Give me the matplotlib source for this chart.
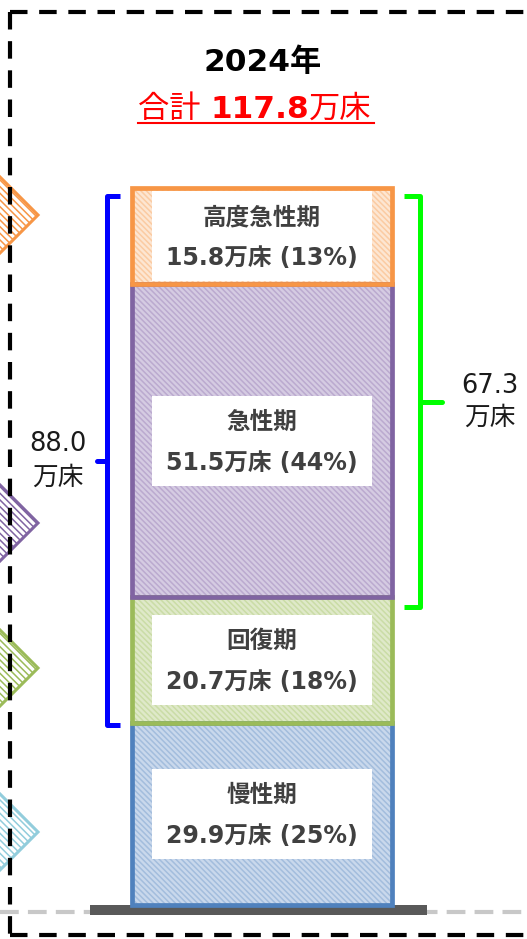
import matplotlib.pyplot as plt
from matplotlib.patches import Rectangle, Polygon
import numpy as np

plt.rcParams['font.family'] = ['DejaVu Sans', 'Noto Sans CJK JP']
plt.rcParams['hatch.linewidth'] = 1.1

# data (万床)
categories = ["慢性期", "回復期", "急性期", "高度急性期"]
beds = [29.9, 20.7, 51.5, 15.8]
shares = [25, 18, 44, 13]
total = 117.8
left_sum = 88.0   # 高度急性期 + 急性期 + 回復期
right_sum = 67.3  # 高度急性期 + 急性期
year_label = "2024年"

edge_colors = ["#4F81BD", "#9BBB59", "#8064A2", "#F79646"]
fill_colors = ["#C9D8EC", "#DFE9C9", "#D5CBE2", "#FDE6D2"]
hatch_colors = ["#A3BDDD", "#CADCA6", "#BBAACF", "#FBCBA2"]
diamond_colors = ["#F79646", "#8064A2", "#9BBB59", "#92CDDC"]
diamond_y = [215, 523, 668, 832]

W, H = 527, 939
fig = plt.figure(figsize=(W / 100, H / 100), dpi=100)

# background / decoration layer in pixel coordinates
bg = fig.add_axes([0, 0, 1, 1])
bg.set_xlim(0, W)
bg.set_ylim(H, 0)
bg.axis("off")

# bar layer: x in pixels, y in 万床
base_px, top_px = 905, 189
s = (base_px - top_px) / total  # px per 万床
ax = fig.add_axes([0, 0, 1, 1])
ax.set_xlim(0, W)
ax.set_ylim(-(H - base_px) / s, base_px / s)
ax.axis("off")

# diamonds peeking from the left
for c, yc in zip(diamond_colors, diamond_y):
    r = 60
    xc = 38 - r
    pts = [(xc, yc - r), (xc + r, yc), (xc, yc + r), (xc - r, yc)]
    bg.add_patch(Polygon(pts, closed=True, facecolor="white", edgecolor=c,
                         hatch="\\\\\\\\\\", lw=0, zorder=1))
    bg.add_patch(Polygon(pts, closed=True, facecolor="none", edgecolor=c, lw=2.2, zorder=1.1))

# dashed frame
dash = (0, (4.2, 2.8))
bg.plot([10, 10], [12, 939], color="black", lw=3, linestyle=dash, zorder=2)
bg.plot([10, 527], [12, 12], color="black", lw=3, linestyle=dash, zorder=2)
bg.plot([10, 527], [935, 935], color="black", lw=3, linestyle=dash, zorder=2)

# grey ground line + base
bg.plot([0, W], [912, 912], color="#C8C8C8", lw=3, linestyle=(0, (4.5, 2.2)), zorder=2)
bg.add_patch(Rectangle((90, 905), 337, 10, facecolor="#595959", edgecolor="none", zorder=3))

# stacked bar
x_c, bar_w = 261.5, 260
bottoms = np.concatenate([[0], np.cumsum(beds)[:-1]])
ax.bar(x_c, beds, bottom=bottoms, width=bar_w, color=fill_colors, edgecolor="none", zorder=3)
for b, h, hc in zip(bottoms, beds, hatch_colors):
    ax.bar(x_c, h, bottom=b, width=bar_w, color="none", edgecolor=hc,
           hatch="\\\\\\\\\\\\", lw=0, zorder=3.1)
for b, h, ec in zip(bottoms, beds, edge_colors):
    ax.bar(x_c, h, bottom=b, width=bar_w, color="none", edgecolor=ec, lw=3.4, zorder=3.3)

# white label boxes and text
box_w = 220
for cat, b, h, pct in zip(categories, bottoms, beds, shares):
    yc = b + h / 2
    bh = min(90 / s, h - 0.7)
    ax.add_patch(Rectangle((x_c - box_w / 2, yc - bh / 2), box_w, bh,
                           facecolor="white", edgecolor="none", zorder=3.2))
    ax.text(x_c, yc + 19 / s, cat, ha="center", va="center", fontsize=17,
            fontweight="bold", color="#404040", zorder=4)
    ax.text(x_c, yc - 22 / s, f"{h:.1f}万床 ({pct}%)", ha="center", va="center",
            fontsize=17, fontweight="bold", color="#404040", zorder=4)

# left brace (blue): 回復期 .. 高度急性期
y0, y1 = bottoms[1] - 0.3, total - 1.2
ym = (y0 + y1) / 2
bx = 107
ax.plot([bx + 13, bx, bx, bx + 13], [y1, y1, y0, y0], color="#0000FF", lw=3.6,
        solid_joinstyle="round", solid_capstyle="butt", zorder=4)
ax.plot([bx, bx - 10], [ym, ym], color="#0000FF", lw=3.6, solid_capstyle="round", zorder=4)
ax.text(58, ym, f"{left_sum:.1f}\n万床", ha="center", va="center", fontsize=18.5,
        linespacing=1.4, color="#1a1a1a", zorder=4)

# right brace (green): 急性期 .. 高度急性期
y0, y1 = bottoms[2] - 1.6, total - 1.2
ym = (y0 + y1) / 2
gx = 420
ax.plot([gx - 16, gx, gx, gx - 16], [y1, y1, y0, y0], color="#00FF00", lw=3.6,
        solid_joinstyle="round", solid_capstyle="butt", zorder=4)
ax.plot([gx, gx + 22], [ym, ym], color="#00FF00", lw=3.6, solid_capstyle="round", zorder=4)
ax.text(490, ym, f"{right_sum:.1f}\n万床", ha="center", va="center", fontsize=18.5,
        linespacing=1.3, color="#1a1a1a", zorder=4)

# title
bg.text(263, 62, year_label, ha="center", va="center", fontsize=22.5, fontweight="bold", color="black")
t1 = bg.text(138, 118, "合計 ", ha="left", va="baseline", fontsize=22.5, color="#FF0000")
t2 = bg.annotate(f"{total:.1f}", xy=(1, 0), xycoords=t1, ha="left", va="bottom",
                 fontsize=22.5, fontweight="bold", color="#FF0000")
t3 = bg.annotate("万床", xy=(1, 0), xycoords=t2, ha="left", va="bottom",
                 fontsize=22.5, color="#FF0000")
bg.plot([138, 374], [123, 123], color="#FF0000", lw=1.5)

fig.savefig("out.png", dpi=100)
